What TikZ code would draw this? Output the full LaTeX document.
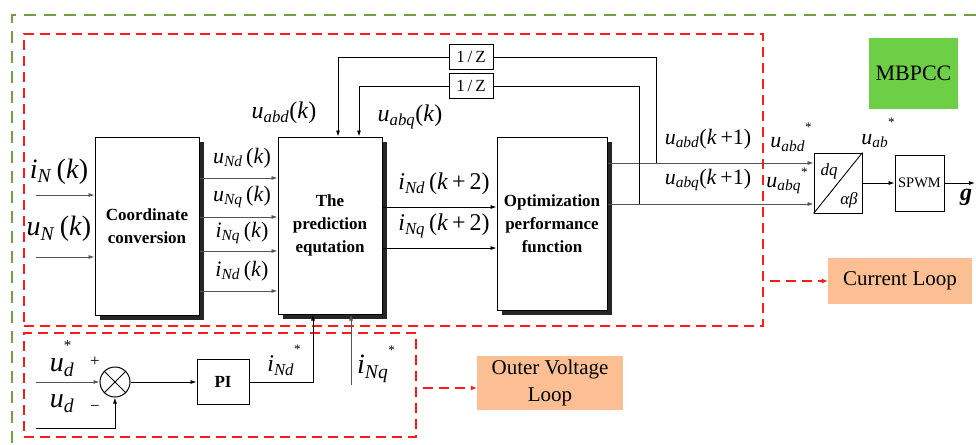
\documentclass[tikz,border=0pt]{standalone}
\usepackage{fontspec}
\setmainfont{LiberationSerif}[Extension=.ttf, UprightFont=*-Regular, BoldFont=*-Bold, ItalicFont=*-Italic, BoldItalicFont=*-BoldItalic]
\usetikzlibrary{arrows.meta,shadows}
\definecolor{lred}{HTML}{FF1A1A}
\definecolor{lgreen}{HTML}{70A040}
\definecolor{salmon}{HTML}{FBBF93}
\definecolor{mgreen}{HTML}{6CCF45}
\definecolor{lgrey}{HTML}{555555}
\newcommand{\vv}[2]{\textit{#1}\textsubscript{\textit{#2}}}
\newcommand{\fs}[1]{\fontsize{#1}{#1}\selectfont}
\newcommand{\str}[1]{\raisebox{#1}{\fs{13}*}}
\tikzset{
  blk/.style={draw, line width=1pt, fill=white, inner sep=0, align=center,
    font=\fontsize{17}{23}\selectfont\bfseries,
    drop shadow={shadow xshift=5pt, shadow yshift=-5pt, fill=black!85, opacity=1}},
  sbox/.style={draw, line width=0.9pt, fill=white, inner sep=0},
  lab/.style={inner sep=0},
  arr/.style={-{Latex[length=6pt,width=4pt]}, line width=0.8pt},
  garr/.style={arr, draw=lgrey},
  rdash/.style={draw=lred, line width=1.5pt, dash pattern=on 10pt off 6pt},
  rarr/.style={rdash, -{Latex[length=6pt,width=5pt]}},
  gdash/.style={draw=lgreen, line width=1.5pt, dash pattern=on 12pt off 8pt},
  tag/.style={fill=salmon, inner sep=0, align=center, font=\fontsize{21}{27}\selectfont}
}
\begin{document}
\begin{tikzpicture}[x=1pt,y=-1pt]
\useasboundingbox (0,0) rectangle (976,444);
% outer green frame
\coordinate (g1) at (976,15);
\coordinate (g2) at (12,15);
\coordinate (g3) at (12,444);
\draw[gdash] (g1) -- (g2) -- (g3);
% loop frames
\node[rdash, minimum width=739, minimum height=292, inner sep=0] (curbox) at (393.5,180) {};
\node[rdash, minimum width=392, minimum height=104, inner sep=0] (voltbox) at (220,385) {};
% tags
\node[tag, minimum width=144, minimum height=46] (curlab) at (900,281) {Current Loop};
\node[tag, minimum width=146, minimum height=54] (vlab) at (550,383) {Outer Voltage\\Loop};
\node[fill=mgreen, minimum width=89, minimum height=71, inner sep=0, font=\fontsize{22}{22}\selectfont] (mb) at (913.5,73.5) {MBPCC};
\draw[rarr, shorten <=6pt] (curbox.east |- curlab.west) -- (curlab.west);
\draw[rarr, shorten <=6pt] ([yshift=-5pt]voltbox.east |- vlab.west) -- ([yshift=-5pt]vlab.west);
% main blocks
\node[blk, minimum width=104, minimum height=178] (cc) at (147,226) {Coordinate\\conversion};
\node[blk, minimum width=104, minimum height=177] (pe) at (330,225.5) {The\\prediction\\equtation};
\node[blk, minimum width=110, minimum height=173] (of) at (552,223.5) {Optimization\\performance\\function};
% delay blocks
\node[sbox, minimum width=44, minimum height=25, font=\fontsize{17}{17}\selectfont] (z1) at (471,57) {1\,/\,Z};
\node[sbox, minimum width=44, minimum height=25, font=\fontsize{17}{17}\selectfont] (z2) at (471,86) {1\,/\,Z};
% dq / SPWM
\node[sbox, minimum width=48, minimum height=60] (dq) at (838,183) {};
\draw[line width=0.9pt] (dq.south west) -- (dq.north east);
\node[lab, font=\fontsize{17}{17}\selectfont] (dqt) at (829,171) {\textit{dq}};
\node[lab, font=\fontsize{17}{17}\selectfont] (abt) at (849,200) {\textit{αβ}};
\node[sbox, minimum width=49, minimum height=56, font=\fontsize{14.5}{14.5}\selectfont] (pwm) at (919.5,183) {SPWM};
\coordinate (gout) at (975,183);
\draw[arr] (dq.east |- pwm.west) -- (pwm.west);
\draw[arr] (pwm.east) -- (gout);
\node[lab, font=\fontsize{24}{24}\selectfont\bfseries\itshape] (gl) at (966,197) {g};
% inputs
\coordinate (iin) at (36,195);
\coordinate (uin) at (36,257);
\draw[garr] (iin) -- (cc.west |- iin);
\draw[garr] (uin) -- (cc.west |- uin);
\node[lab, font=\fontsize{28}{28}\selectfont] (lin) at (59,172) {\vv{i}{N}\,(\textit{k})};
\node[lab, font=\fontsize{28}{28}\selectfont] (lun) at (59,229) {\vv{u}{N}\,(\textit{k})};
% cc -> pe
\foreach \yy in {178,217,251,291} {\draw[garr] (cc.east |- 0,\yy) -- (pe.west |- 0,\yy);}
\node[lab, font=\fontsize{22}{22}\selectfont] (l1) at (242,158) {\vv{u}{Nd}\,(\textit{k})};
\node[lab, font=\fontsize{22}{22}\selectfont] (l2) at (242,197) {\vv{u}{Nq}\,(\textit{k})};
\node[lab, font=\fontsize{22}{22}\selectfont] (l3) at (242,233) {\vv{i}{Nq}\,(\textit{k})};
\node[lab, font=\fontsize{22}{22}\selectfont] (l4) at (242,271) {\vv{i}{Nd}\,(\textit{k})};
% pe -> of
\draw[arr] (pe.east |- 0,207) -- (of.west |- 0,207);
\draw[arr] (pe.east |- 0,248) -- (of.west |- 0,248);
\node[lab, font=\fontsize{24}{24}\selectfont] (l5) at (444,184) {\vv{i}{Nd}\,(\textit{k}\,+\,2)};
\node[lab, font=\fontsize{24}{24}\selectfont] (l6) at (444,226) {\vv{i}{Nq}\,(\textit{k}\,+\,2)};
% of -> dq
\draw[garr] (of.east |- 0,163) -- (dq.west |- 0,163);
\draw[garr] (of.east |- 0,204) -- (dq.west |- 0,204);
\node[lab, font=\fontsize{22}{22}\selectfont] (l7) at (708,139) {\vv{u}{abd}(\textit{k}\,+1)};
\node[lab, font=\fontsize{22}{22}\selectfont] (l8) at (708,180) {\vv{u}{abq}(\textit{k}\,+1)};
\node[lab, font=\fontsize{22}{22}\selectfont] (l9) at (791,137) {\vv{u}{abd}\str{0.75em}};
\node[lab, font=\fontsize{22}{22}\selectfont] (l10) at (787,181) {\vv{u}{abq}\str{0.5em}};
\node[lab, font=\fontsize{22}{22}\selectfont] (l11) at (878,133) {\vv{u}{ab}\str{0.8em}};
% feedback through 1/Z
\coordinate (f1) at (656,163);
\coordinate (f2) at (639,204);
\draw[line width=0.8pt] (f1) |- (z1.east);
\draw[line width=0.8pt] (f2) |- (z2.east);
\draw[arr] (z1.west) -| (pe.north -| 338,0);
\draw[arr] (z2.west) -| (pe.north -| 359,0);
\node[lab, font=\fontsize{24}{24}\selectfont] (l12) at (284,113) {\vv{u}{abd}(\textit{k})};
\node[lab, font=\fontsize{24}{24}\selectfont] (l13) at (410,117) {\vv{u}{abq}(\textit{k})};
% voltage loop
\node[circle, draw, line width=1pt, minimum size=30, inner sep=0] (sum) at (115,382) {};
\draw[line width=0.8pt] (sum.north west) -- (sum.south east);
\draw[line width=0.8pt] (sum.north east) -- (sum.south west);
\coordinate (ref) at (36,382);
\coordinate (fb) at (36,428);
\draw[garr] (ref) -- (sum.west);
\draw[arr, line width=1pt] (fb) -| (sum.south);
\node[sbox, minimum width=52, minimum height=45, font=\fontsize{17}{17}\selectfont\bfseries] (pi) at (223,382) {PI};
\draw[arr] (sum.east) -- (pi.west);
\draw[arr] (pi.east) -| (pe.south -| 313,0);
\coordinate (iq) at (351,385);
\draw[garr] (iq) -- (pe.south -| iq);
\node[lab, font=\fontsize{28}{28}\selectfont] (l14) at (62,359) {\textit{u}\rlap{\raisebox{0.75em}{\fs{15}*}}\textsubscript{\textit{d}}};
\node[lab, font=\fontsize{28}{28}\selectfont] (l15) at (62,404) {\vv{u}{d}};
\node[lab, font=\fontsize{17}{17}\selectfont] (pl) at (95,362) {+};
\node[lab, font=\fontsize{17}{17}\selectfont] (mi) at (95,408) {−};
\node[lab, font=\fontsize{24}{24}\selectfont] (l16) at (284,360) {\vv{i}{Nd}\str{0.75em}};
\node[lab, font=\fontsize{28}{28}\selectfont] (l17) at (376,364) {\vv{i}{Nq}\str{0.7em}};
\end{tikzpicture}
\end{document}
